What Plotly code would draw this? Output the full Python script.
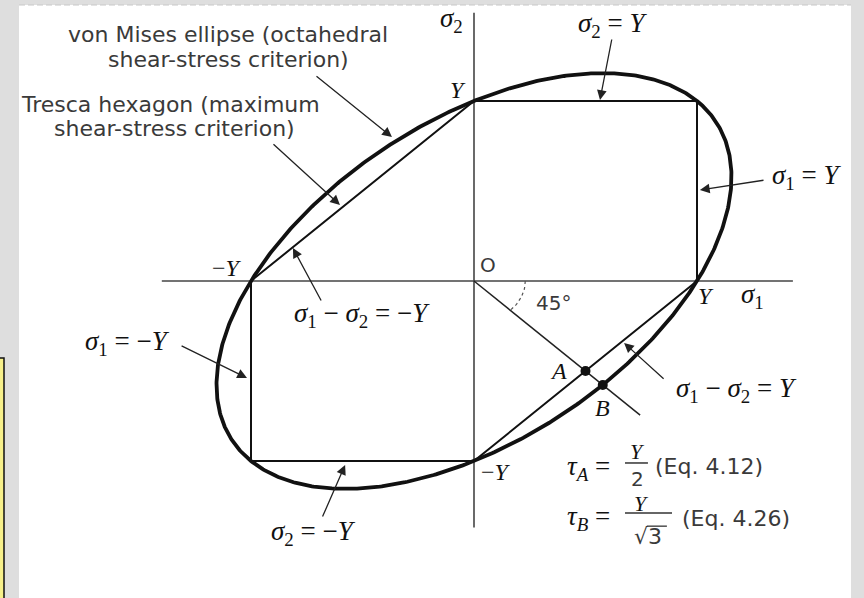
import numpy as np
import plotly.graph_objects as go

# Yield strength (normalised)
Y = 1.0

# Tresca hexagon vertices (sigma1, sigma2), closed
hex_s1 = [1, 1, 0, -1, -1, 0, 1]
hex_s2 = [0, 1, 1, 0, -1, -1, 0]

# von Mises ellipse: sigma1^2 - sigma1*sigma2 + sigma2^2 = Y^2
# semi-axes along the sigma1 = sigma2 diagonal and across it
vm_major = np.sqrt(2.0) * Y
vm_minor = np.sqrt(2.0 / 3.0) * Y

# Points A (on Tresca) and B (on von Mises) along sigma2 = -sigma1
point_names = ["A", "B"]
point_s1 = [0.5, 1 / np.sqrt(3)]
point_s2 = [-0.5, -1 / np.sqrt(3)]

# Pure-shear ray from the origin
ray_s1 = [0, 0.745]
ray_s2 = [0, -0.745]

# Axis extents
axis1_s1 = [-1.40, 1.43]
axis2_s2 = [1.49, -1.37]

SERIF = "Liberation Serif"
SANS = "DejaVu Sans"
INK = "#111111"
TXT = "#3a3a3a"
MATH = 27

fig = go.Figure()

# coordinate axes
fig.add_trace(go.Scatter(x=axis1_s1, y=[0, 0], mode="lines",
                         line=dict(color="#444", width=1.6), hoverinfo="skip"))
fig.add_trace(go.Scatter(x=[0, 0], y=axis2_s2, mode="lines",
                         line=dict(color="#444", width=1.6), hoverinfo="skip"))

# Tresca hexagon
fig.add_trace(go.Scatter(x=hex_s1, y=hex_s2, mode="lines",
                         line=dict(color=INK, width=2), hoverinfo="skip"))

# von Mises ellipse
t = np.linspace(0, 2 * np.pi, 721)
e1 = (vm_major * np.cos(t) - vm_minor * np.sin(t)) / np.sqrt(2)
e2 = (vm_major * np.cos(t) + vm_minor * np.sin(t)) / np.sqrt(2)
fig.add_trace(go.Scatter(x=e1, y=e2, mode="lines",
                         line=dict(color=INK, width=3.8), hoverinfo="skip"))

# pure-shear ray
fig.add_trace(go.Scatter(x=ray_s1, y=ray_s2, mode="lines",
                         line=dict(color="#222", width=1.5), hoverinfo="skip"))

# 45 degree angle marker
phi = np.linspace(0, -np.pi / 4, 20)
r_arc = 0.23
fig.add_trace(go.Scatter(x=r_arc * np.cos(phi), y=r_arc * np.sin(phi), mode="lines",
                         line=dict(color="#555", width=1.2, dash="3px,3px"),
                         hoverinfo="skip"))

# points A and B
fig.add_trace(go.Scatter(x=point_s1, y=point_s2, mode="markers",
                         marker=dict(color=INK, size=10), hoverinfo="skip"))


def label(x, y, text, size=MATH, family=SERIF, color=INK, xanchor="center"):
    fig.add_annotation(x=x, y=y, text=text, showarrow=False, xanchor=xanchor,
                       yanchor="middle", font=dict(family=family, size=size, color=color))


def arrow(tail, head):
    fig.add_annotation(x=head[0], y=head[1], ax=tail[0], ay=tail[1],
                       xref="x", yref="y", axref="x", ayref="y", text="",
                       showarrow=True, arrowhead=2, arrowsize=1.5, arrowwidth=1.3,
                       arrowcolor="#222", standoff=0)


s1 = "<i>σ</i><sub>1</sub>"
s2 = "<i>σ</i><sub>2</sub>"
iY = "<i>Y</i>"

# axis labels and intercepts
label(-0.103, 1.45, s2)
label(1.247, -0.085, s1)
label(0.063, 0.089, "O", family=SANS, size=20, color=TXT)
label(-0.072, 1.061, iY, size=24)
label(1.040, -0.085, iY, size=24)
label(-1.108, 0.072, "−" + iY, size=24)
label(0.100, -1.061, "−" + iY, size=24)
label(0.355, -0.122, "45°", family=SANS, size=20, color=TXT)
label(point_s1[0] - 0.12, point_s2[0], "<i>" + point_names[0] + "</i>", size=24)
label(point_s1[1] + 0.0, point_s2[1] - 0.13, "<i>" + point_names[1] + "</i>", size=24)

# side equations
label(0.623, 1.422, s2 + " = " + iY)
label(1.493, 0.578, s1 + " = " + iY)
label(-0.502, -0.189, s1 + " − " + s2 + " = −" + iY)
label(1.179, -0.606, s1 + " − " + s2 + " = " + iY)
label(-1.552, -0.344, s1 + " = −" + iY)
label(-0.722, -1.40, s2 + " = −" + iY)

# criterion captions
label(-1.103, 1.372, "von Mises ellipse (octahedral", size=22, family=SANS, color=TXT)
label(-1.103, 1.233, "shear-stress criterion)", size=22, family=SANS, color=TXT)
label(-1.363, 0.978, "Tresca hexagon (maximum", size=22, family=SANS, color=TXT)
label(-1.341, 0.850, "shear-stress criterion)", size=22, family=SANS, color=TXT)

# arrows (tail -> head)
arrow((-0.713, 1.144), (-0.368, 0.80))
arrow((-0.906, 0.767), (-0.601, 0.422))
arrow((-0.682, -0.117), (-0.812, 0.183))
arrow((0.619, 1.35), (0.565, 1.006))
arrow((1.305, 0.561), (1.013, 0.506))
arrow((-1.318, -0.356), (-1.018, -0.539))
arrow((-0.682, -1.317), (-0.578, -1.022))
arrow((0.857, -0.55), (0.673, -0.344))

# shear stress formulas
label(0.620, -1.039, "<i>τ<sub>A</sub></i> =", xanchor="right")
label(0.731, -0.945, iY, size=22)
label(0.731, -1.100, "2", family=SANS, size=20, color=TXT)
label(0.803, -1.033, "(Eq. 4.12)", family=SANS, size=22, color=TXT, xanchor="left")
fig.add_shape(type="line", x0=0.677, x1=0.780, y0=-1.011, y1=-1.011,
              line=dict(color="#333", width=1.5))

label(0.620, -1.317, "<i>τ<sub>B</sub></i> =", xanchor="right")
label(0.749, -1.236, iY, size=22)
label(0.780, -1.422, "√3", family=SANS, size=22, color=TXT)
label(0.924, -1.317, "(Eq. 4.26)", family=SANS, size=22, color=TXT, xanchor="left")
fig.add_shape(type="line", x0=0.677, x1=0.888, y0=-1.289, y1=-1.289,
              line=dict(color="#333", width=1.5))
fig.add_shape(type="line", x0=0.775, x1=0.865, y0=-1.362, y1=-1.362,
              line=dict(color="#333", width=1.3))

# page: grey frame, white sheet, yellow note box at the left edge
fig.add_shape(type="rect", xref="paper", yref="paper", x0=19 / 864, x1=851 / 864,
              y0=0, y1=1 - 5 / 598, fillcolor="white", line=dict(width=0), layer="below")
fig.add_shape(type="line", xref="paper", yref="paper", x0=19 / 864, x1=851 / 864,
              y0=1 - 5 / 598, y1=1 - 5 / 598, line=dict(color="#c8c8c8", width=1, dash="6px,3px"),
              layer="below")
fig.add_shape(type="rect", xref="paper", yref="paper", x0=-0.01, x1=4 / 864,
              y0=-0.01, y1=1 - 358 / 598, fillcolor="#f7f08a",
              line=dict(color="#111", width=1.5), layer="below")

fig.update_layout(
    width=864, height=598,
    margin=dict(l=0, r=0, t=0, b=0),
    paper_bgcolor="#dedede",
    plot_bgcolor="rgba(0,0,0,0)",
    showlegend=False,
    xaxis=dict(range=[-2.1256, 1.7489], visible=False, fixedrange=True),
    yaxis=dict(range=[-1.7611, 1.5611], visible=False, fixedrange=True),
)

fig.write_html("out.html")
